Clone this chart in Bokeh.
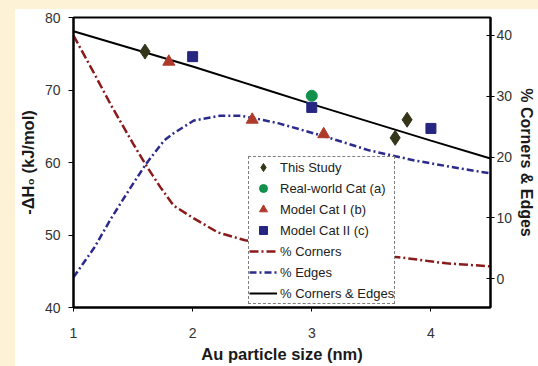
import math
from bokeh.plotting import figure
from bokeh.models import Range1d, LinearAxis, FixedTicker, Legend, LegendItem, Div
from bokeh.layouts import row, column
from bokeh.embed import file_html
from bokeh.resources import INLINE

# ---- data ----
study_x = [1.6, 3.7, 3.8]
study_y = [75.3, 63.4, 65.9]
real_x = [3.0]
real_y = [69.2]
cat1_x = [1.8, 2.5, 3.1]
cat1_y = [73.9, 65.9, 63.9]
cat2_x = [2.0, 3.0, 4.0]
cat2_y = [74.6, 67.6, 64.7]

corners_x = [1.0, 1.175, 1.316, 1.5, 1.62, 1.73, 1.84, 2.01, 2.21, 2.44, 3.0, 3.73, 4.13, 4.5]
corners_y = [40.0, 33.7, 28.5, 22.2, 18.3, 15.0, 12.0, 9.9, 7.6, 6.3, 4.6, 3.5, 2.5, 2.0]
edges_x = [1.0, 1.175, 1.316, 1.48, 1.61, 1.76, 1.84, 2.01, 2.23, 2.40, 2.54, 2.73, 3.14, 3.48, 3.87, 4.25, 4.5]
edges_y = [0.2, 5.1, 9.9, 15.0, 18.9, 22.7, 23.9, 26.0, 26.8, 26.8, 26.3, 25.5, 23.2, 21.1, 19.4, 18.1, 17.3]
ce_x = [1.0, 2.0, 3.0, 4.0, 4.5]
ce_y = [40.7, 34.9, 28.7, 22.7, 19.75]

x_ticks = [1, 2, 3, 4]
left_ticks = [40, 50, 60, 70, 80]
right_ticks = [0, 10, 20, 30, 40]

FONT = "Liberation Sans"
YELLOW = "#FDF2D6"

p = figure(width=523, height=357, x_range=Range1d(1, 4.5), y_range=Range1d(40, 80),
           output_backend="svg", toolbar_location=None,
           min_border_left=57, min_border_right=45, min_border_top=8, min_border_bottom=59,
           background_fill_color="white", border_fill_color="white", border_fill_alpha=0)
p.extra_y_ranges = {"pct": Range1d(-4.77, 42.96)}
p.grid.visible = False
p.outline_line_color = "black"
p.outline_line_width = 2

def style_axis(ax):
    ax.axis_line_color = "black"
    ax.axis_line_width = 2
    ax.major_tick_line_color = "black"
    ax.major_tick_line_width = 1
    ax.minor_tick_line_color = None
    ax.major_label_text_font = FONT
    ax.major_label_text_font_size = "14px"
    ax.major_label_text_color = "#333333"
    ax.axis_label_text_font = FONT
    ax.axis_label_text_font_size = "16.5px"
    ax.axis_label_text_font_style = "bold"
    ax.axis_label_text_color = "#1a1a1a"

xa = p.xaxis[0]
style_axis(xa)
xa.ticker = FixedTicker(ticks=x_ticks)
xa.major_tick_in = 0
xa.major_tick_out = 4
xa.major_label_standoff = 16
xa.axis_label = "Au particle size (nm)"
xa.axis_label_standoff = 4

ya = p.yaxis[0]
style_axis(ya)
ya.ticker = FixedTicker(ticks=left_ticks)
ya.major_tick_in = 0
ya.major_tick_out = 5
ya.major_label_standoff = 8
ya.axis_label = "-\u0394H\u2080 (kJ/mol)"
ya.axis_label_standoff = 5

ra = LinearAxis(y_range_name="pct", ticker=FixedTicker(ticks=right_ticks))
style_axis(ra)
ra.major_tick_in = 4
ra.major_tick_out = 4
ra.major_label_standoff = 2
ra.axis_label = "% Corners & Edges"
ra.axis_label_standoff = 3
ra.axis_label_text_font_size = "16px"
p.add_layout(ra, "right")

dash_red = "9 3 2 3"
dash_blue = "7 3 2 3"

r_corners = p.line(corners_x, corners_y, y_range_name="pct", line_color="#8B1A1A",
                   line_width=2.5, line_dash=dash_red)
r_edges = p.line(edges_x, edges_y, y_range_name="pct", line_color="#2B2B8C",
                 line_width=2.5, line_dash=dash_blue)
r_ce = p.line(ce_x, ce_y, y_range_name="pct", line_color="black", line_width=2)

r_study = p.scatter(study_x, study_y, marker="diamond", size=15, fill_color="#35351A",
                    line_color="#35351A")
r_real = p.scatter(real_x, real_y, marker="circle", size=11, fill_color="#12904C",
                   line_color="#12904C")
r_cat1 = p.scatter(cat1_x, cat1_y, marker="triangle", size=12, fill_color="#B03A2A",
                   line_color="#B03A2A")
r_cat2 = p.scatter(cat2_x, cat2_y, marker="square", size=10, fill_color="#262680",
                   line_color="#262680")

legend = Legend(items=[
    LegendItem(label="This Study", renderers=[r_study]),
    LegendItem(label="Real-world Cat (a)", renderers=[r_real]),
    LegendItem(label="Model Cat I (b)", renderers=[r_cat1]),
    LegendItem(label="Model Cat II (c)", renderers=[r_cat2]),
    LegendItem(label="% Corners", renderers=[r_corners]),
    LegendItem(label="% Edges", renderers=[r_edges]),
    LegendItem(label="% Corners & Edges", renderers=[r_ce]),
], location=(175, 3))
legend.border_line_color = "black"
legend.border_line_dash = "dotted"
legend.border_line_width = 1
legend.background_fill_color = "white"
legend.background_fill_alpha = 1
legend.label_text_font = FONT
legend.label_text_font_size = "13px"
legend.label_text_color = "#222222"
legend.glyph_width = 28
legend.glyph_height = 20
legend.label_height = 20
legend.spacing = 1
legend.padding = 0
legend.margin = 0
legend.label_standoff = 3
p.add_layout(legend, "center")

# pale yellow page strips at the left and top of the white chart panel
left_strip = Div(text="", width=15, height=366, margin=0,
                 styles={"background-color": YELLOW})
top_strip = Div(text="", width=523, height=9, margin=0,
                styles={"background-color": YELLOW})
p.margin = 0
page = row(left_strip, column(top_strip, p, spacing=0, margin=0), spacing=0, margin=0)

open("out.html", "w").write(file_html(page, INLINE))
